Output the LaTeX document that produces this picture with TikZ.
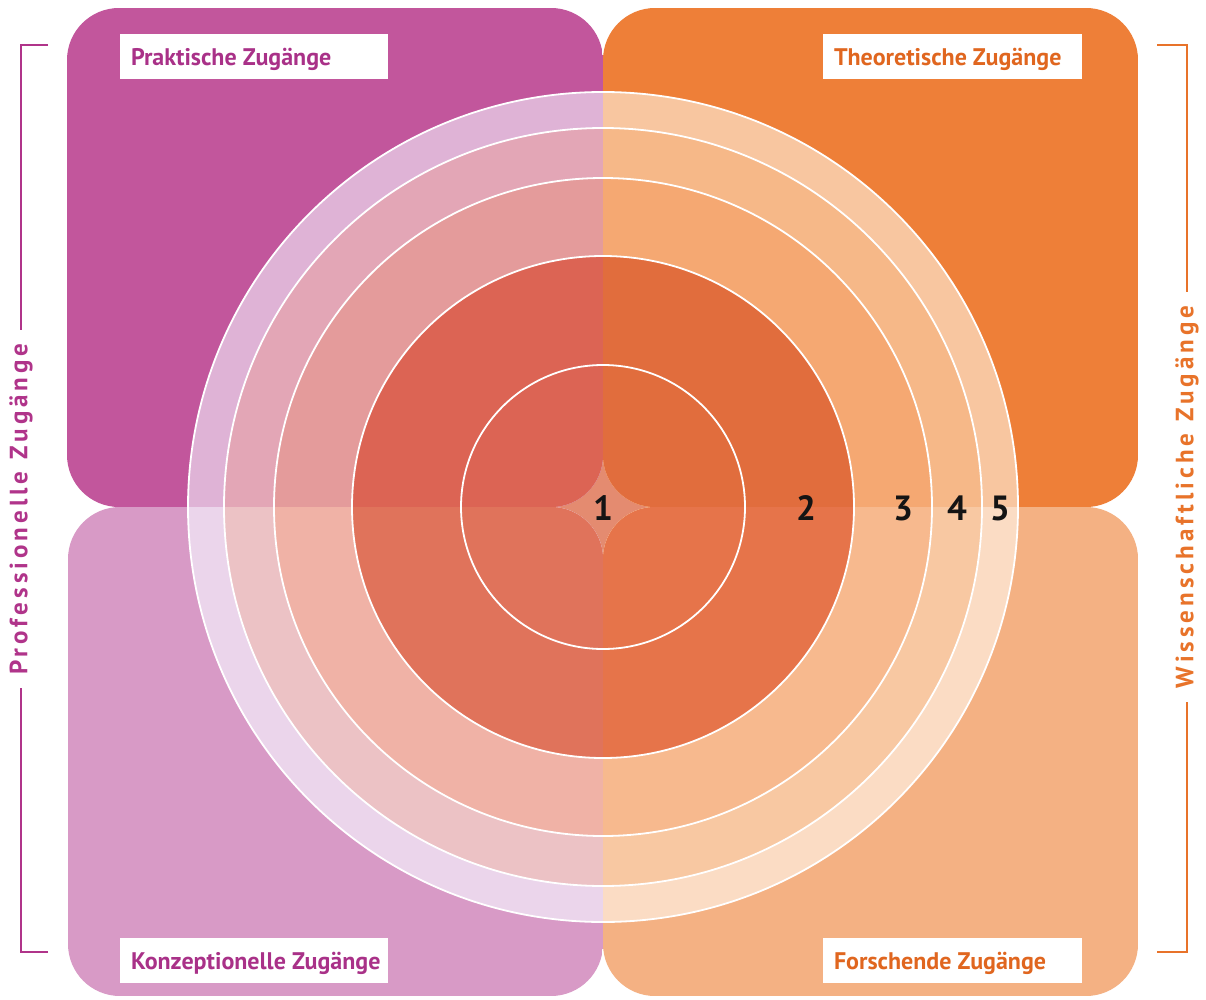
\documentclass[tikz,border=0pt]{standalone}
\usepackage{fontspec}
\setmainfont{PT Sans}
\definecolor{TLq}{HTML}{C2569C}\definecolor{TLv}{HTML}{DFB3D6}\definecolor{TLiv}{HTML}{E3A6B6}\definecolor{TLiii}{HTML}{E49B9B}\definecolor{TLii}{HTML}{DC6454}
\definecolor{TRq}{HTML}{EE7F38}\definecolor{TRv}{HTML}{F8C6A0}\definecolor{TRiv}{HTML}{F6B888}\definecolor{TRiii}{HTML}{F5A872}\definecolor{TRii}{HTML}{E16D3D}
\definecolor{BLq}{HTML}{D89AC6}\definecolor{BLv}{HTML}{EBD5EB}\definecolor{BLiv}{HTML}{ECC2C5}\definecolor{BLiii}{HTML}{F0B2A6}\definecolor{BLii}{HTML}{E0735B}
\definecolor{BRq}{HTML}{F4B183}\definecolor{BRv}{HTML}{FBDCC4}\definecolor{BRiv}{HTML}{F8C8A2}\definecolor{BRiii}{HTML}{F7B98E}\definecolor{BRii}{HTML}{E6744A}
\definecolor{starc}{HTML}{E48B70}
\definecolor{magtext}{HTML}{A93188}
\definecolor{ortext}{HTML}{E0661F}
\definecolor{magline}{HTML}{B0348A}
\definecolor{orline}{HTML}{E8732A}
\newcommand{\quadrant}[5]{%
  \begin{scope}
    \clip[rounded corners=52pt] (#1,#2) rectangle (#3,#4);
    \fill[#5q] (#1,#2) rectangle (#3,#4);
    \fill[#5v] (603,507) circle[radius=415];
    \fill[#5iv] (603,507) circle[radius=379];
    \fill[#5iii] (603,507) circle[radius=329];
    \fill[#5ii] (603,507) circle[radius=251];
  \end{scope}}
\newcommand{\boxtext}[2]{\makebox[#1][l]{#2}}
\begin{document}
\begin{tikzpicture}[x=1pt,y=-1pt,
  labelbox/.style={fill=white, minimum height=45pt, inner xsep=11pt,
    text height=18pt, text depth=0pt,
    font=\fontsize{24}{26}\selectfont\bfseries},
  ringline/.style={draw=white, line width=1.8pt},
  numlabel/.style={font=\fontsize{35}{38}\selectfont\bfseries, text=black!92},
  sidetext/.style={rotate=90, font=\fontsize{25}{27}\selectfont\bfseries\addfontfeature{LetterSpace=16}, inner xsep=13pt, inner ysep=0pt},
  bracket/.style={line width=2.8pt}
]
\useasboundingbox (0,0) rectangle (1206,1000);
\fill[white] (0,0) rectangle (1206,1000);
% star gap colour in the centre
\fill[starc] (603,507) circle[radius=251];
% quadrants with rings
\quadrant{67}{8}{603}{507}{TL}
\quadrant{603}{8}{1138}{507}{TR}
\quadrant{68}{507}{603}{996}{BL}
\quadrant{603}{507}{1138}{996}{BR}
% ring outlines
\coordinate (c) at (603,507);
\foreach \r in {415,379,329,251,142} \draw[ringline] (c) circle[radius=\r];
% numbers
\node[numlabel] (n1) at (603,508) {1};
\node[numlabel] (n2) at (806,508) {2};
\node[numlabel] (n3) at (903,508) {3};
\node[numlabel] (n4) at (957,508) {4};
\node[numlabel] (n5) at (1000,508) {5};
% label boxes
\node[labelbox, text=magtext] (pz) at (254,56.5) {\boxtext{246pt}{Praktische Zugänge}};
\node[labelbox, text=ortext] (tz) at (952.5,56.5) {\boxtext{237pt}{Theoretische Zugänge}};
\node[labelbox, text=magtext] (kz) at (254,960.5) {\boxtext{246pt}{Konzeptionelle Zugänge}};
\node[labelbox, text=ortext] (fz) at (952.5,960.5) {\boxtext{237pt}{Forschende Zugänge}};
% side brackets
\node[sidetext, text=magline] (prof) at (21,509) {Professionelle\hspace{12pt}Zugänge};
\node[sidetext, text=orline] (wiss) at (1187,497) {Wissenschaftliche\hspace{12pt}Zugänge};
\coordinate (lt) at (48,45);
\coordinate (lb) at (48,952);
\coordinate (rt) at (1157,45);
\coordinate (rb) at (1157,952);
\draw[bracket, magline] (lt) -| (prof.east);
\draw[bracket, magline] (lb) -| (prof.west);
\draw[bracket, orline] (rt) -| (wiss.east);
\draw[bracket, orline] (rb) -| (wiss.west);
\end{tikzpicture}
\end{document}
